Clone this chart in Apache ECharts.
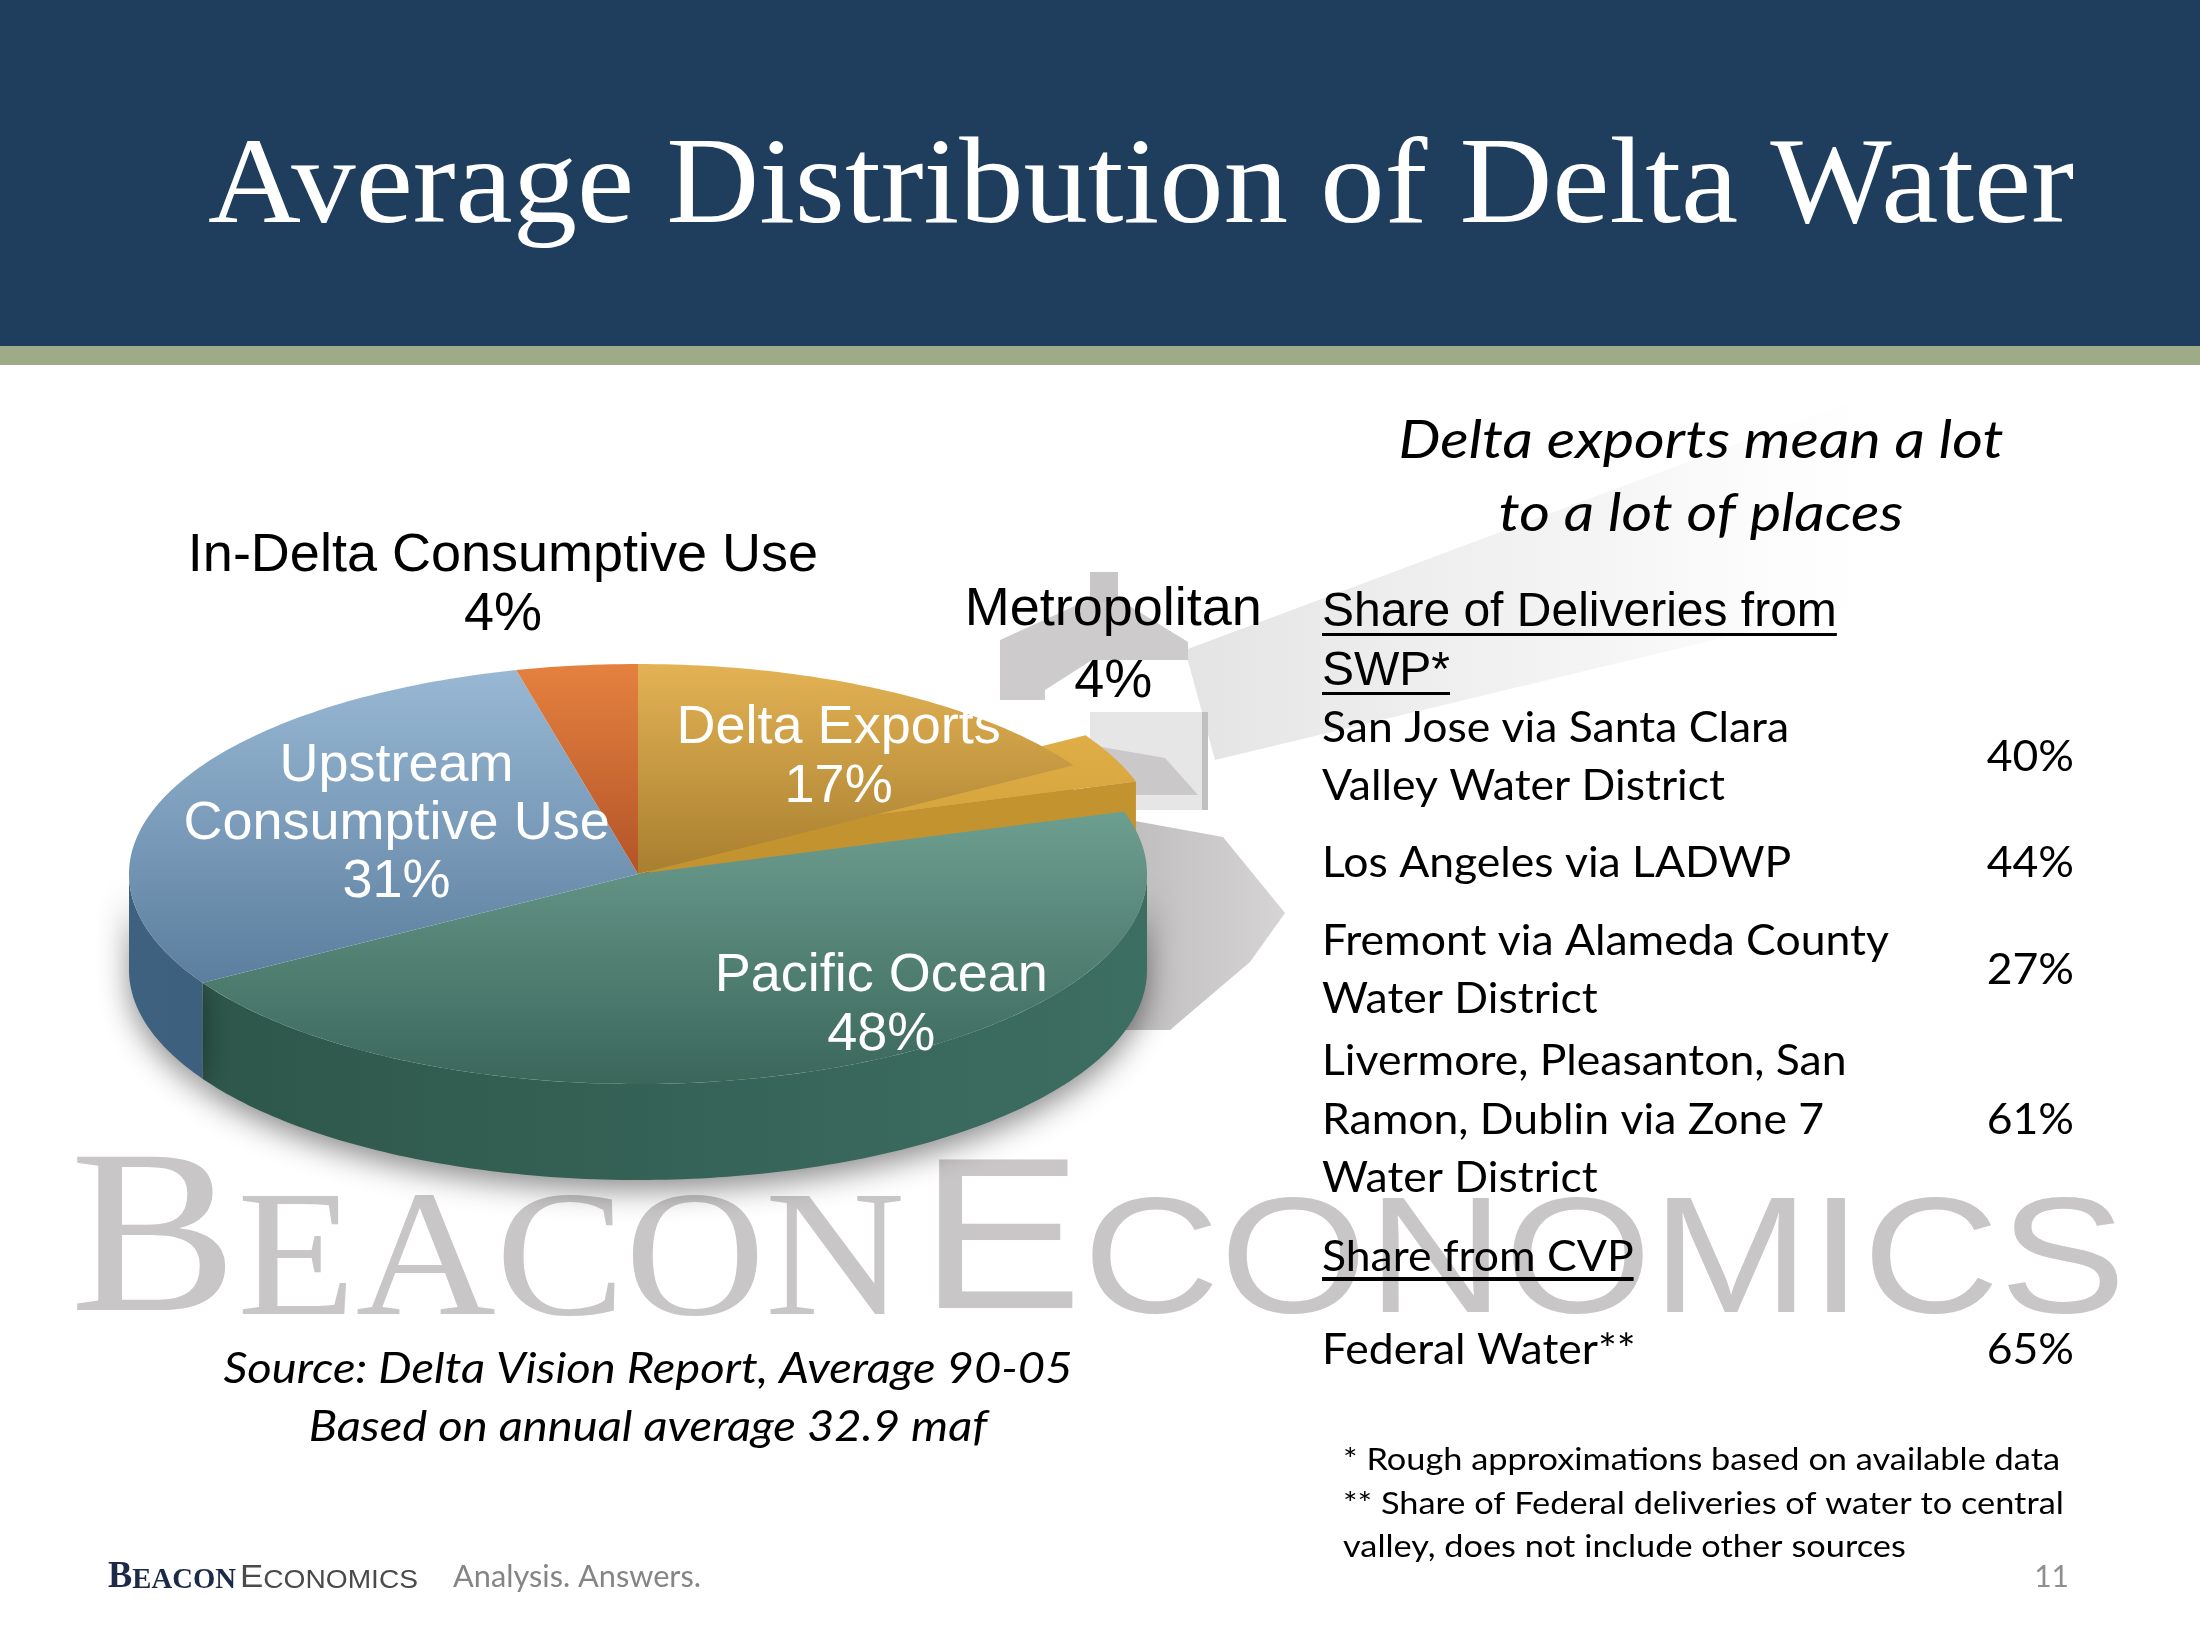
<!DOCTYPE html>
<html>
<head>
<meta charset="utf-8">
<script src="https://cdn.jsdelivr.net/npm/echarts@6/dist/echarts.min.js"></script>
<style>
html, body { margin: 0; padding: 0; background: #fff; }
#slide { width: 2200px; height: 1650px; }
</style>
</head>
<body>
<div id="slide"></div>
<script>
// values
var sliceNames = ['Delta Exports\n17%', 'Metropolitan\n4%', 'Pacific Ocean\n48%', 'Upstream\nConsumptive Use\n31%', 'In-Delta Consumptive Use\n4%'];
var sliceValues = [17, 4, 48, 31, 4];

var swpPlaces = [
    'San Jose via Santa Clara\nValley Water District',
    'Los Angeles via LADWP',
    'Fremont via Alameda County\nWater District',
    'Livermore, Pleasanton, San\nRamon, Dublin via Zone 7\nWater District'
];
var swpShares = [40, 44, 27, 61];
var cvpPlaces = ['Federal Water**'];
var cvpShares = [65];

var footnotes = [
    '* Rough approximations based on available data',
    '** Share of Federal deliveries of water to central',
    'valley, does not include other sources'
];

// tilted pie geometry (pixels) and looks
var pieGeo = { cx: 638, cy: 874, rx: 509, ry: 210, depth: 96 };
var sliceLook = [
    { top: ['#e3b254', '#a27a2c'], span: [-1, 0.1], side: ['#9c7428', '#8a6622'], lift: null, z2: 2, labelR: 0.68, labelShift: 6, color: '#fff', lh: 59 },
    { top: ['#e8b650', '#c9972f'], span: [-1, 0.3], side: ['#c39330', '#b0822a'], lift: [12, -30], z2: 1, labelR: 1.43, labelShift: -25, color: '#000', lh: 72 },
    { top: ['#7cb0a1', '#3b675b'], span: [-0.7, 1], side: ['#2d5549', '#3d6e62'], lift: null, z2: 2, labelR: 0.79, labelShift: -13, color: '#fff', lh: 59 },
    { top: ['#99b9d5', '#4d7091'], span: [-1, 0.9], side: ['#3f6180', '#30506c'], lift: null, z2: 2, labelR: 0.53, labelShift: 4, color: '#fff', lh: 58 },
    { top: ['#e5813f', '#b35428'], span: [-1, 0], side: ['#a04a22', '#a04a22'], lift: null, z2: 2, labelR: 1.40, labelShift: -4, color: '#000', lh: 59 }
];

var total = sliceValues.reduce(function (s, v) { return s + v; }, 0);
var startAngles = [];
sliceValues.reduce(function (acc, v, i) { startAngles[i] = acc / total * 360; return acc + v; }, 0);

var measureCtx = document.createElement('canvas').getContext('2d');
function textWidth(str, font) {
    measureCtx.font = font;
    return Math.max.apply(null, str.split('\n').map(function (s) { return measureCtx.measureText(s).width; }));
}

// angle is clockwise from 12 o'clock
function pt(a, r, off, dz) {
    var rad = a * Math.PI / 180;
    return [pieGeo.cx + off[0] + r * pieGeo.rx * Math.sin(rad),
            pieGeo.cy + off[1] - r * pieGeo.ry * Math.cos(rad) + (dz || 0)];
}
function arc(a0, a1, off, dz) {
    var n = Math.max(2, Math.ceil(a1 - a0)), pts = [];
    for (var k = 0; k <= n; k++) pts.push(pt(a0 + (a1 - a0) * k / n, 1, off, dz));
    return pts;
}
function sliceAngles(i, api) {
    var a0 = startAngles[i];
    return [a0, a0 + api.value(1) / total * 360];
}

function renderWalls(params, api) {
    var i = params.dataIndex, look = sliceLook[i], n = sliceValues.length;
    var ang = sliceAngles(i, api), a0 = ang[0], a1 = ang[1];
    var off = look.lift || [0, 0];
    var kids = [];
    var lo = Math.max(a0, 90), hi = Math.min(a1, 270);
    if (lo < hi) {
        var upper = arc(lo, hi, off, 0), lower = arc(lo, hi, off, pieGeo.depth).reverse();
        kids.push({
            type: 'polygon',
            shape: { points: upper.concat(lower) },
            style: {
                fill: new echarts.graphic.LinearGradient(pieGeo.cx - pieGeo.rx, 0, pieGeo.cx + pieGeo.rx, 0,
                    [{ offset: 0, color: look.side[0] }, { offset: 1, color: look.side[1] }], true),
                shadowBlur: 30, shadowOffsetY: 10, shadowColor: 'rgba(0,0,0,0.45)'
            }
        });
    }
    function face(a) {
        var c = pt(a, 0, off), e = pt(a, 1, off);
        return {
            type: 'polygon',
            shape: { points: [c, e, [e[0], e[1] + pieGeo.depth], [c[0], c[1] + pieGeo.depth]] },
            style: { fill: look.side[0] }
        };
    }
    var nextLift = sliceLook[(i + 1) % n].lift, prevLift = sliceLook[(i + n - 1) % n].lift;
    if ((look.lift || nextLift) && a1 < 180) kids.push(face(a1));
    if ((look.lift || prevLift) && a0 > 180) kids.push(face(a0));
    return { type: 'group', children: kids };
}

function renderTops(params, api) {
    var i = params.dataIndex, look = sliceLook[i];
    var ang = sliceAngles(i, api), a0 = ang[0], a1 = ang[1];
    var off = look.lift || [0, 0];
    var pts = [pt(a0, 0, off)].concat(arc(a0, a1, off, 0));
    return {
        type: 'polygon',
        z2: look.z2,
        shape: { points: pts },
        style: {
            fill: new echarts.graphic.LinearGradient(0, pieGeo.cy + look.span[0] * pieGeo.ry, 0, pieGeo.cy + look.span[1] * pieGeo.ry,
                [{ offset: 0, color: look.top[0] }, { offset: 1, color: look.top[1] }], true)
        }
    };
}

function renderLabels(params, api) {
    var i = params.dataIndex, look = sliceLook[i];
    var ang = sliceAngles(i, api);
    var lp = pt((ang[0] + ang[1]) / 2 + look.labelShift, look.labelR, [0, 0]);
    return {
        type: 'text',
        x: lp[0], y: lp[1],
        style: {
            text: sliceNames[i], fill: look.color, fontSize: 54, fontFamily: 'Liberation Sans',
            align: 'center', verticalAlign: 'middle', lineHeight: look.lh
        }
    };
}

function txt(o) {
    var font = (o.style || 'normal') + ' ' + (o.weight || 'normal') + ' ' + o.size + 'px ' + o.family;
    var sx = o.fit ? o.fit / textWidth(o.fitText || o.text, font) : (o.sx || 1);
    return {
        type: 'text', x: o.x, y: o.y, scaleX: sx, z: o.z || 10, silent: true,
        style: {
            text: o.text, fontSize: o.size, fontFamily: o.family, fontStyle: o.style || 'normal',
            fontWeight: o.weight || 'normal', fill: o.fill || '#000', align: o.align || 'left',
            verticalAlign: 'middle', lineHeight: o.lh
        }
    };
}

// run of text pieces sharing a baseline, squeezed to a target width
function textRun(x, baseline, targetW, parts, z) {
    var widths = parts.map(function (p) {
        return textWidth(p.text, (p.weight || 'normal') + ' ' + p.size + 'px ' + p.family);
    });
    var k = targetW / widths.reduce(function (s, w) { return s + w; }, 0);
    var out = [];
    parts.forEach(function (p, j) {
        out.push(txt({ text: p.text, x: x, y: baseline - p.capH * p.size / 2, size: p.size, family: p.family,
            weight: p.weight, fill: p.fill, sx: k, z: z }));
        x += widths[j] * k;
    });
    return out;
}

var gfx = [];
// header band
gfx.push({ type: 'rect', shape: { x: 0, y: 0, width: 2200, height: 348 }, style: { fill: '#1f3d5c' }, z: 0 });
gfx.push({ type: 'rect', shape: { x: 0, y: 346, width: 2200, height: 19 }, style: { fill: '#9dab86' }, z: 0 });
gfx.push(txt({ text: 'Average Distribution of Delta Water', x: 208, y: 190, size: 122, family: 'Liberation Serif',
    fill: '#ffffff', fit: 1866 }));

// lighthouse beam and silhouette
gfx.push({ type: 'polygon', z: 0, silent: true,
    shape: { points: [[1185, 650], [1880, 390], [1880, 600], [1215, 760]] },
    style: { fill: new echarts.graphic.LinearGradient(1185, 0, 1880, 0,
        [{ offset: 0, color: 'rgba(205,205,205,0.55)' }, { offset: 0.6, color: 'rgba(225,225,225,0.35)' },
         { offset: 1, color: 'rgba(240,240,240,0)' }], true) } });
gfx.push({ type: 'polygon', z: 1, silent: true,
    shape: { points: [[1000, 700], [1000, 640], [1088, 600], [1120, 600], [1188, 642], [1188, 660], [1092, 660], [1045, 690], [1045, 700]] },
    style: { fill: '#cdcbcb' } });
gfx.push({ type: 'rect', z: 1, silent: true, shape: { x: 1090, y: 572, width: 28, height: 30 }, style: { fill: '#c8c6c6' } });
gfx.push({ type: 'rect', z: 1, silent: true, shape: { x: 1090, y: 712, width: 118, height: 98 }, style: { fill: '#e6e6e6' } });
gfx.push({ type: 'polygon', z: 1, silent: true, shape: { points: [[1090, 745], [1165, 758], [1198, 795], [1090, 795]] }, style: { fill: '#cac8c8' } });
gfx.push({ type: 'rect', z: 1, silent: true, shape: { x: 1202, y: 712, width: 6, height: 98 }, style: { fill: '#c0c0c0' } });
gfx.push({ type: 'polygon', z: 1, silent: true,
    shape: { points: [[1113, 817], [1223, 837], [1285, 913], [1250, 962], [1170, 1030], [1110, 1030]] },
    style: { fill: new echarts.graphic.LinearGradient(1113, 0, 1285, 0,
        [{ offset: 0, color: '#bdbbbb' }, { offset: 1, color: '#d6d4d4' }], true) } });

// big watermark
gfx = gfx.concat(textRun(70, 1326, 835, [
    { text: 'B', size: 233, family: 'Liberation Serif', capH: 0.662, fill: '#c8c6c6' },
    { text: 'EACON', size: 180, family: 'Liberation Serif', capH: 0.662, fill: '#c8c6c6' }
], 1));
gfx = gfx.concat(textRun(919, 1326, 1207, [
    { text: 'E', size: 215, family: 'Liberation Sans', capH: 0.716, fill: '#c8c6c6' },
    { text: 'CONOMICS', size: 166, family: 'Liberation Sans', capH: 0.716, fill: '#c8c6c6' }
], 1));

// right-hand block
var bodyFont = 'Lato';
gfx.push(txt({ text: 'Delta exports mean a lot\nto a lot of places', x: 1701, y: 478, size: 52, family: bodyFont,
    style: 'italic', align: 'center', lh: 73, fit: 605, fitText: 'Delta exports mean a lot' }));

var swpHead = 'Share of Deliveries from\nSWP*';
gfx.push(txt({ text: swpHead, x: 1322, y: 642, size: 48, family: 'Liberation Sans', lh: 59 }));
swpHead.split('\n').forEach(function (line, j) {
    var w = textWidth(line, 'normal normal 48px Liberation Sans');
    gfx.push({ type: 'rect', z: 10, shape: { x: 1322, y: 633 + j * 59, width: w, height: 3 }, style: { fill: '#000' } });
});

var itemSize = 43;
var itemK = 467 / textWidth('San Jose via Santa Clara', 'normal normal ' + itemSize + 'px ' + bodyFont);
var swpRows = [757, 863, 970, 1120];
swpPlaces.forEach(function (p, j) {
    gfx.push(txt({ text: p, x: 1322, y: swpRows[j], size: itemSize, family: bodyFont, lh: 58.5, sx: itemK }));
    gfx.push(txt({ text: swpShares[j] + '%', x: 2074, y: swpRows[j], size: itemSize, family: bodyFont, align: 'right', sx: itemK }));
});

var cvpHead = 'Share from CVP';
gfx.push(txt({ text: cvpHead, x: 1322, y: 1257, size: itemSize, family: bodyFont, sx: itemK }));
gfx.push({ type: 'rect', z: 10, shape: { x: 1322, y: 1277, width: textWidth(cvpHead, 'normal normal ' + itemSize + 'px ' + bodyFont) * itemK, height: 4 }, style: { fill: '#000' } });
var cvpRows = [1350];
cvpPlaces.forEach(function (p, j) {
    gfx.push(txt({ text: p, x: 1322, y: cvpRows[j], size: itemSize, family: bodyFont, sx: itemK }));
    gfx.push(txt({ text: cvpShares[j] + '%', x: 2074, y: cvpRows[j], size: itemSize, family: bodyFont, align: 'right', sx: itemK }));
});

gfx.push(txt({ text: footnotes.join('\n'), x: 1343, y: 1504, size: 30, family: bodyFont, lh: 43.5,
    fit: 717, fitText: footnotes[0] }));

// source note under the pie
gfx.push(txt({ text: 'Source: Delta Vision Report, Average 90-05\nBased on annual average 32.9 maf', x: 648, y: 1398,
    size: 43, family: bodyFont, style: 'italic', align: 'center', lh: 58, fit: 849,
    fitText: 'Source: Delta Vision Report, Average 90-05' }));

// footer
gfx = gfx.concat(textRun(108, 1590, 128, [
    { text: 'B', size: 38, family: 'Liberation Serif', weight: 'bold', capH: 0.662, fill: '#1c2a4a' },
    { text: 'EACON', size: 30, family: 'Liberation Serif', weight: 'bold', capH: 0.662, fill: '#1c2a4a' }
], 10));
gfx = gfx.concat(textRun(240, 1590, 178, [
    { text: 'E', size: 31, family: 'Liberation Sans', capH: 0.716, fill: '#4a4a4a' },
    { text: 'CONOMICS', size: 25, family: 'Liberation Sans', capH: 0.716, fill: '#4a4a4a' }
], 10));
gfx.push(txt({ text: 'Analysis. Answers.', x: 453, y: 1577, size: 30, family: bodyFont, fill: '#858585', fit: 248 }));
gfx.push(txt({ text: '11', x: 2069, y: 1577, size: 30, family: bodyFont, fill: '#8f8f8f', align: 'right' }));

var pieData = sliceValues.map(function (v, i) { return [i, v]; });

var chart = echarts.init(document.getElementById('slide'));
chart.setOption({
    animation: false,
    backgroundColor: '#ffffff',
    graphic: { elements: gfx },
    series: [
        { type: 'custom', coordinateSystem: 'none', silent: true, z: 2, data: pieData, renderItem: renderWalls },
        { type: 'custom', coordinateSystem: 'none', silent: true, z: 3, data: pieData, renderItem: renderTops },
        { type: 'custom', coordinateSystem: 'none', silent: true, z: 4, data: pieData, renderItem: renderLabels }
    ]
});
</script>
</body>
</html>
